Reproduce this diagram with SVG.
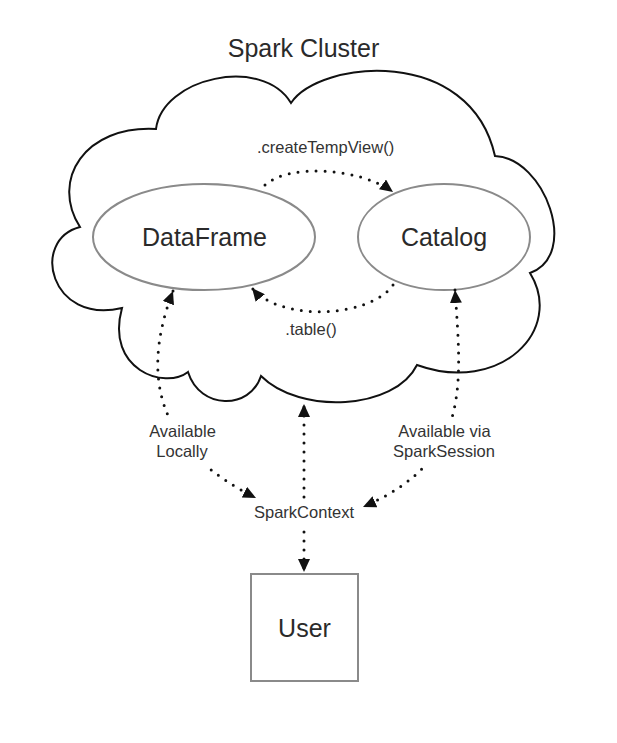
<svg xmlns="http://www.w3.org/2000/svg" width="617" height="743" viewBox="0 0 617 743">
<style>
text{font-family:"Liberation Sans",Arial,sans-serif;fill:#2a2a2a;text-anchor:middle}
.big{font-size:25px}
.lbl{font-size:16.5px;fill:#333}
.node{fill:#fff;stroke:#8a8a8a;stroke-width:2}
.cloud{fill:#fff;stroke:#111;stroke-width:2;stroke-linejoin:miter}
.dot{fill:none;stroke:#111;stroke-width:3;stroke-linecap:round;stroke-dasharray:0 9}
.bg{fill:#fff;stroke:none}
</style>
<defs>
<marker id="arr" viewBox="0 0 13 12" refX="13" refY="6" markerWidth="13" markerHeight="12" markerUnits="userSpaceOnUse" orient="auto-start-reverse">
<path d="M0,0 L13,6 L0,12 Z" fill="#111"/>
</marker>
</defs>
<rect width="617" height="743" fill="#fff"/>
<g id="spark-cluster">
<path class="cloud" d="M156,129 C162,78 262,55 291,103 C320,60 470,45 495,156 C545,158 580,255 530,273 C565,330 500,395 417,365 C395,410 300,415 261,376 C250,410 200,410 188,372 C165,390 105,370 122,308 C50,325 30,240 80,227 C50,180 85,125 156,129 Z"/>
<text class="big" x="303.5" y="57">Spark Cluster</text>
</g>
<g id="dataframe">
<ellipse class="node" cx="204" cy="237" rx="111" ry="53"/>
<text class="big" x="204.5" y="246">DataFrame</text>
</g>
<g id="catalog">
<ellipse class="node" cx="444" cy="237" rx="86" ry="53"/>
<text class="big" x="444" y="246">Catalog</text>
</g>
<g id="user">
<rect class="node" x="251" y="574" width="107" height="107"/>
<text class="big" x="304.5" y="637">User</text>
</g>
<g id="connectors">
<path class="dot" d="M265,185 C290,163 360,168 393,192" marker-end="url(#arr)"/>
<path class="dot" d="M393,285 C370,318 280,322 252,288" marker-end="url(#arr)"/>
<path class="dot" d="M173,291 C135,390 170,455 256,498" marker-start="url(#arr)" marker-end="url(#arr)"/>
<path class="dot" d="M455,290 C462,390 470,460 363,507" marker-start="url(#arr)" marker-end="url(#arr)"/>
<path class="dot" d="M304,497 L304,404" marker-end="url(#arr)"/>
<path class="dot" d="M304,532 L304,572" marker-end="url(#arr)"/>
</g>
<g id="labels">
<text class="lbl" x="325.5" y="153">.createTempView()</text>
<text class="lbl" x="311" y="335">.table()</text>
<rect class="bg" x="140" y="419" width="84" height="47"/>
<text class="lbl" x="182.5" y="437">Available</text>
<text class="lbl" x="182" y="457">Locally</text>
<rect class="bg" x="388" y="419" width="112" height="47"/>
<text class="lbl" x="444.5" y="437">Available via</text>
<text class="lbl" x="444" y="457">SparkSession</text>
<text class="lbl" x="304" y="518">SparkContext</text>
</g>
</svg>
